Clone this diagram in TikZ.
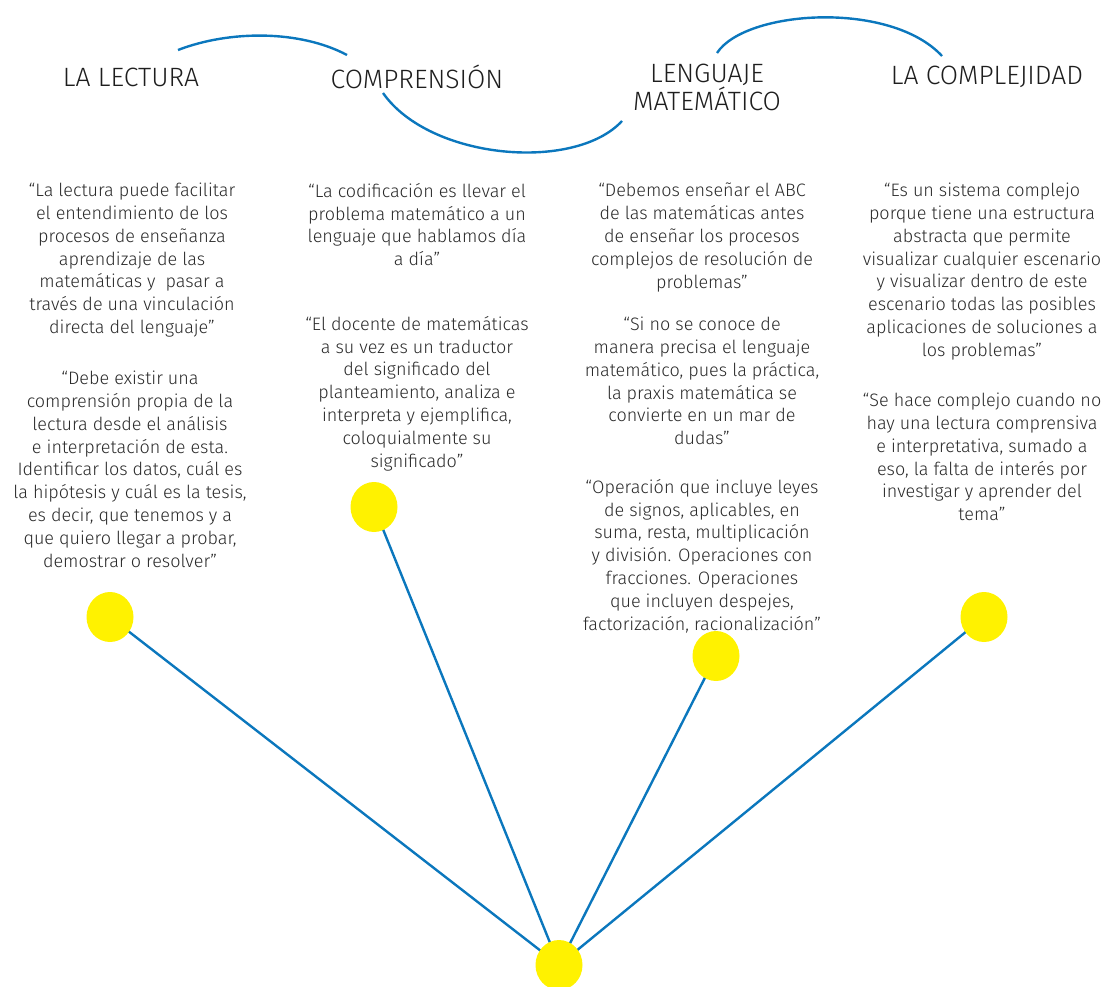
\documentclass[tikz,border=0pt]{standalone}
\usepackage{fontspec}
\usetikzlibrary{shapes.geometric}
\setmainfont{Fira Sans Light}
\definecolor{lineblue}{HTML}{0B77BD}
\definecolor{dotyellow}{HTML}{FFF200}
\definecolor{txtgray}{HTML}{2A2A2A}
\definecolor{ttlgray}{HTML}{1E1E1E}
\begin{document}
\begin{tikzpicture}[x=1pt,y=-1pt,
  title/.style={inner sep=0pt,font=\fontsize{26.5}{28}\selectfont,text=ttlgray,align=center},
  quote/.style={inner sep=0pt,anchor=north,font=\fontsize{18}{22.8}\selectfont,text=txtgray,align=center},
  dot/.style={ellipse,fill=dotyellow,minimum width=47pt,minimum height=50pt,inner sep=0pt},
  link/.style={draw=lineblue,line width=2.4pt},
  arc/.style={draw=lineblue,line width=2.4pt}
]
\useasboundingbox (0,0) rectangle (1116,987);
% titles
\node[title] (t1) at (131,77) {LA LECTURA};
\node[title] (t2) at (417,77) {COMPRENSIÓN};
\node[title] (t3) at (707,87) {LENGUAJE\\MATEMÁTICO};
\node[title] (t4) at (987,77) {LA COMPLEJIDAD};
% arcs
\coordinate (a1s) at (178,50); \coordinate (a1e) at (347,55);
\coordinate (a2s) at (383,93); \coordinate (a2e) at (622,121);
\coordinate (a3s) at (717,53); \coordinate (a3e) at (942,56);
\draw[arc] (a1s) .. controls (230,30) and (300,30) .. (a1e);
\draw[arc] (a2s) .. controls (430,160) and (575,172) .. (a2e);
\draw[arc] (a3s) .. controls (745,10) and (890,0) .. (a3e);
% quotes
\node[quote] (q11) at (132,183) {“La lectura puede facilitar\\el entendimiento de los\\procesos de enseñanza\\aprendizaje de las\\matemáticas y \ pasar a\\través de una vinculación\\directa del lenguaje”};
\node[quote] (q12) at (130,371) {“Debe existir una\\comprensión propia de la\\lectura desde el análisis\\e interpretación de esta.\\Identificar los datos, cuál es\\la hipótesis y cuál es la tesis,\\es decir, que tenemos y a\\que quiero llegar a probar,\\demostrar o resolver”};
\node[quote] (q21) at (417,183) {“La codificación es llevar el\\problema matemático a un\\lenguaje que hablamos día\\a día”};
\node[quote] (q22) at (417,316) {“El docente de matemáticas\\a su vez es un traductor\\del significado del\\planteamiento, analiza e\\interpreta y ejemplifica,\\coloquialmente su\\significado”};
\node[quote] (q31) at (702,183) {“Debemos enseñar el ABC\\de las matemáticas antes\\de enseñar los procesos\\complejos de resolución de\\problemas”};
\node[quote] (q32) at (702,317) {“Si no se conoce de\\manera precisa el lenguaje\\matemático, pues la práctica,\\la praxis matemática se\\convierte en un mar de\\dudas”};
\node[quote] (q33) at (702,479) {“Operación que incluye leyes\\de signos, aplicables, en\\suma, resta, multiplicación\\y división. Operaciones con\\fracciones. Operaciones\\que incluyen despejes,\\factorización, racionalización”};
\node[quote] (q41) at (982,183) {“Es un sistema complejo\\porque tiene una estructura\\abstracta que permite\\visualizar cualquier escenario\\y visualizar dentro de este\\escenario todas las posibles\\aplicaciones de soluciones a\\los problemas”};
\node[quote] (q42) at (982,393) {“Se hace complejo cuando no\\hay una lectura comprensiva\\e interpretativa, sumado a\\eso, la falta de interés por\\investigar y aprender del\\tema”};
% dots and links
\coordinate (c0) at (559,965);
\coordinate (c1) at (110,617);
\coordinate (c2) at (374,507);
\coordinate (c3) at (716,656);
\coordinate (c4) at (984,617);
\draw[link] (c0) -- (c1);
\draw[link] (c0) -- (c2);
\draw[link] (c0) -- (c3);
\draw[link] (c0) -- (c4);
\node[dot] (d0) at (c0) {};
\node[dot] (d1) at (c1) {};
\node[dot] (d2) at (c2) {};
\node[dot] (d3) at (c3) {};
\node[dot] (d4) at (c4) {};
\end{tikzpicture}
\end{document}
